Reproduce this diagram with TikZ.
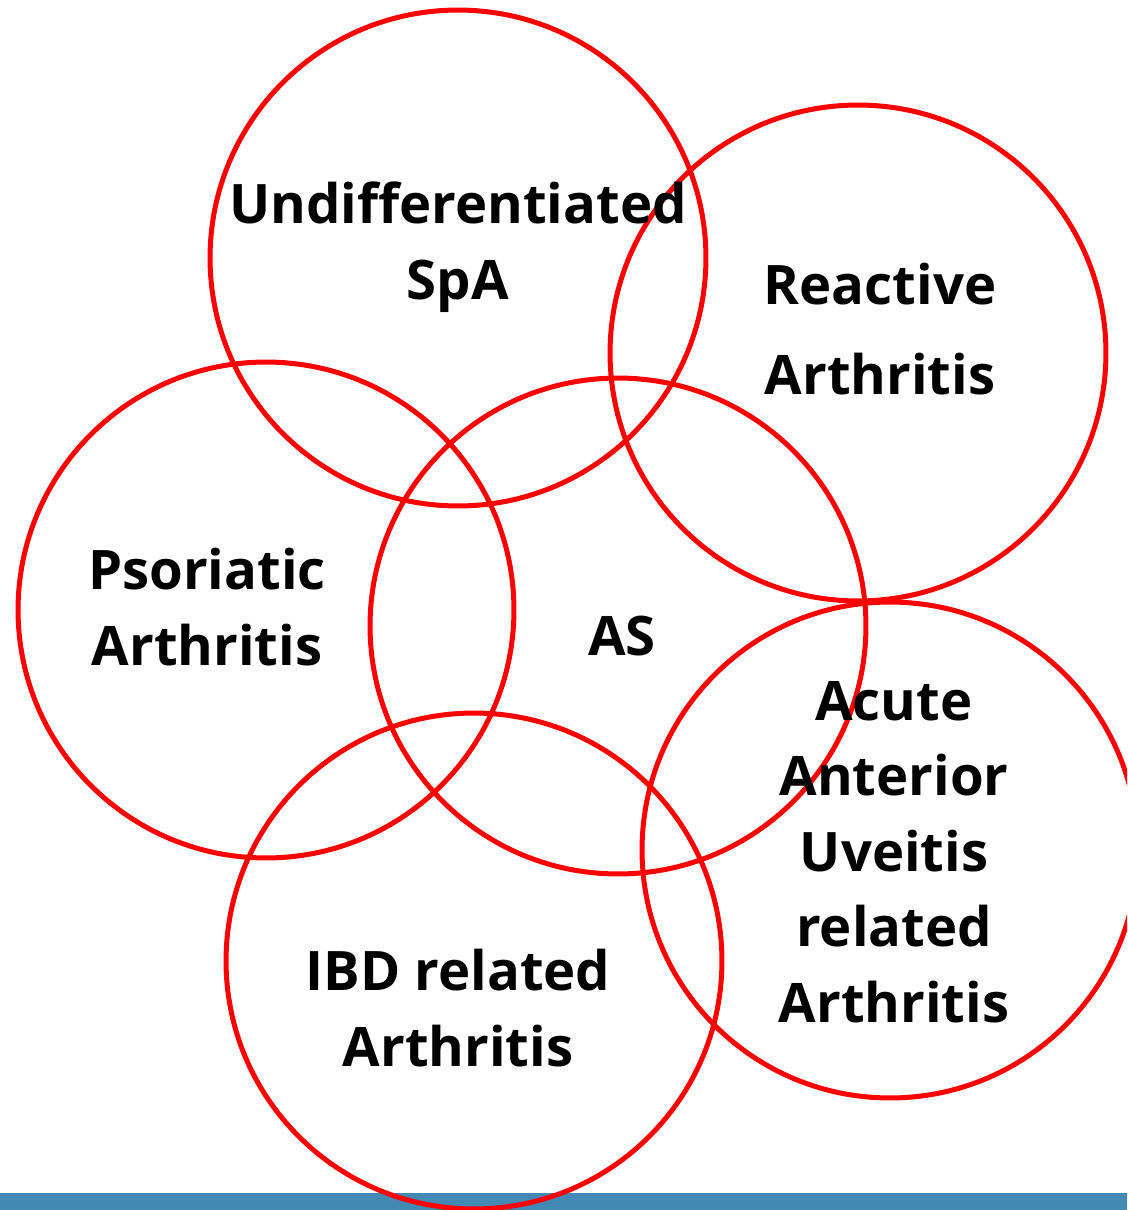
\documentclass[tikz,border=0pt]{standalone}
\usepackage{fontspec}
\setmainfont{Open Sans}
\usepackage{tikz}

\definecolor{ringred}{RGB}{255,0,0}
\definecolor{barblue}{RGB}{66,137,180}

\begin{document}
\begin{tikzpicture}[x=0.02cm, y=-0.02cm,
    ring/.style={draw=ringred, line width=0.1cm, circle, minimum size=9.92cm, inner sep=0pt},
    lbl/.style={align=center, inner sep=0pt, font=\bfseries\fontsize{31}{43}\selectfont}]
% ---------------- Frame and bottom bar ----------------
\useasboundingbox (0,0) rectangle (1127,1210);
\clip (0,0) rectangle (1127,1210);
\fill[barblue] (0,1193) rectangle (1127,1210);

% ---------------- Overlapping circles ----------------
\node[ring] (USpA) at (458,258) {};
\node[ring] (ReA)  at (858,353) {};
\node[ring] (PsA)  at (266,610) {};
\node[ring] (AS)   at (618,626) {};
\node[ring] (IBD)  at (474,961) {};
\node[ring] (AAU)  at (890,850) {};

% ---------------- Labels ----------------
\node[lbl] (tUSpA) at (458,247) {Undifferentiated\\SpA};
\node[lbl] (tReA)  at (880,329) {Reactive\\[0.3cm]Arthritis};
\node[lbl] (tPsA)  at (207,607) {Psoriatic\\Arthritis};
\node[lbl] (tAS)   at (622,636) {AS};
\node[lbl] (tAAU)  at (894,852) {Acute\\Anterior\\Uveitis\\related\\Arthritis};
\node[lbl] (tIBD)  at (458,1008) {IBD related\\Arthritis};
\end{tikzpicture}
\end{document}
